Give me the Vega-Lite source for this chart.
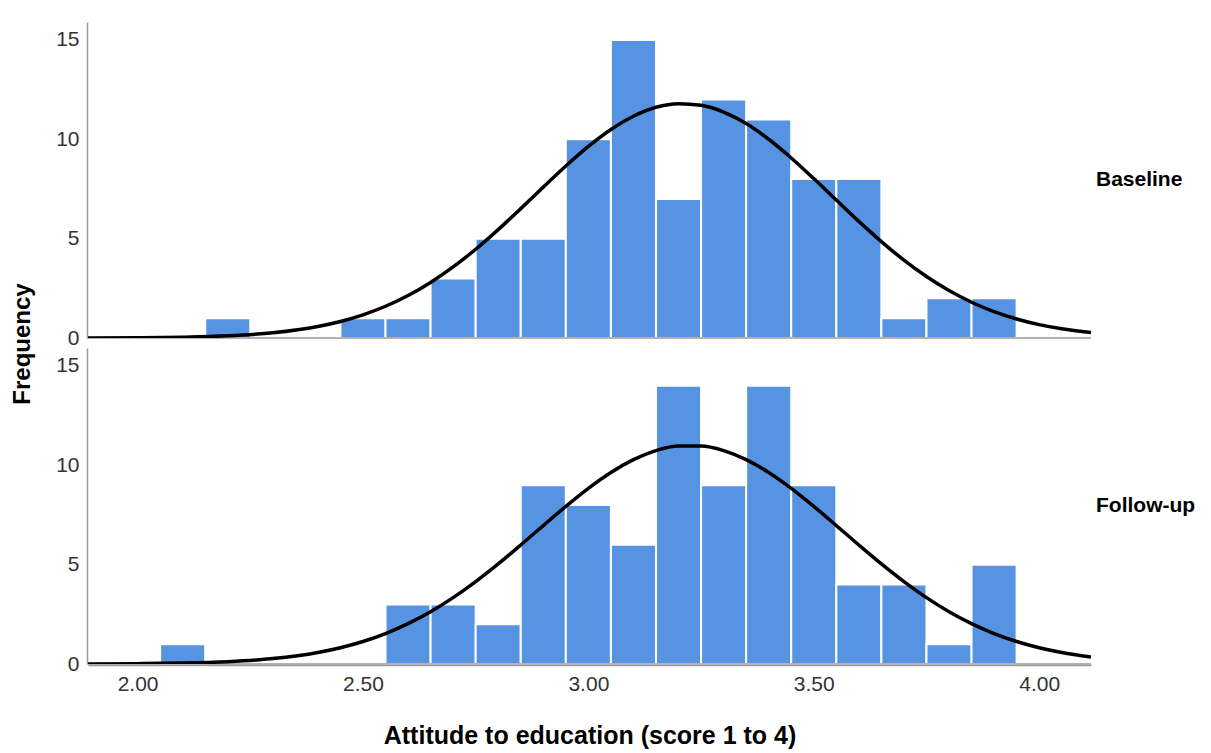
{
  "$schema": "https://vega.github.io/schema/vega-lite/v6.json",
  "padding": {"left": 10, "top": 22, "right": 5, "bottom": 5},
  "background": "white",
  "config": {
    "font": "Liberation Sans",
    "view": {"stroke": null},
    "axis": {"grid": false, "ticks": false, "domainColor": "#9a9a9a", "domainWidth": 1.5, "labelColor": "#333333", "labelFontSize": 21, "titleColor": "#000000"},
    "header": {"labelOrient": "right", "labelAngle": 0, "labelBaseline": "middle", "labelFontSize": 21, "labelFontWeight": "bold", "labelColor": "#000000", "labelPadding": 4, "titleOrient": "left", "titleFontSize": 24, "titleFontWeight": "bold", "titleColor": "#000000", "titlePadding": 10}
  },
  "data": {"values": [
    {"t":"Baseline","k":"bar","lo":2.15,"hi":2.25,"n":1},
    {"t":"Baseline","k":"bar","lo":2.45,"hi":2.55,"n":1},
    {"t":"Baseline","k":"bar","lo":2.55,"hi":2.65,"n":1},
    {"t":"Baseline","k":"bar","lo":2.65,"hi":2.75,"n":3},
    {"t":"Baseline","k":"bar","lo":2.75,"hi":2.85,"n":5},
    {"t":"Baseline","k":"bar","lo":2.85,"hi":2.95,"n":5},
    {"t":"Baseline","k":"bar","lo":2.95,"hi":3.05,"n":10},
    {"t":"Baseline","k":"bar","lo":3.05,"hi":3.15,"n":15},
    {"t":"Baseline","k":"bar","lo":3.15,"hi":3.25,"n":7},
    {"t":"Baseline","k":"bar","lo":3.25,"hi":3.35,"n":12},
    {"t":"Baseline","k":"bar","lo":3.35,"hi":3.45,"n":11},
    {"t":"Baseline","k":"bar","lo":3.45,"hi":3.55,"n":8},
    {"t":"Baseline","k":"bar","lo":3.55,"hi":3.65,"n":8},
    {"t":"Baseline","k":"bar","lo":3.65,"hi":3.75,"n":1},
    {"t":"Baseline","k":"bar","lo":3.75,"hi":3.85,"n":2},
    {"t":"Baseline","k":"bar","lo":3.85,"hi":3.95,"n":2},
    {"t":"Follow-up","k":"bar","lo":2.05,"hi":2.15,"n":1},
    {"t":"Follow-up","k":"bar","lo":2.55,"hi":2.65,"n":3},
    {"t":"Follow-up","k":"bar","lo":2.65,"hi":2.75,"n":3},
    {"t":"Follow-up","k":"bar","lo":2.75,"hi":2.85,"n":2},
    {"t":"Follow-up","k":"bar","lo":2.85,"hi":2.95,"n":9},
    {"t":"Follow-up","k":"bar","lo":2.95,"hi":3.05,"n":8},
    {"t":"Follow-up","k":"bar","lo":3.05,"hi":3.15,"n":6},
    {"t":"Follow-up","k":"bar","lo":3.15,"hi":3.25,"n":14},
    {"t":"Follow-up","k":"bar","lo":3.25,"hi":3.35,"n":9},
    {"t":"Follow-up","k":"bar","lo":3.35,"hi":3.45,"n":14},
    {"t":"Follow-up","k":"bar","lo":3.45,"hi":3.55,"n":9},
    {"t":"Follow-up","k":"bar","lo":3.55,"hi":3.65,"n":4},
    {"t":"Follow-up","k":"bar","lo":3.65,"hi":3.75,"n":4},
    {"t":"Follow-up","k":"bar","lo":3.75,"hi":3.85,"n":1},
    {"t":"Follow-up","k":"bar","lo":3.85,"hi":3.95,"n":5},
    {"t":"Baseline","k":"curve","x":1.89,"d":0.004},
    {"t":"Baseline","k":"curve","x":2.0,"d":0.014},
    {"t":"Baseline","k":"curve","x":2.1,"d":0.041},
    {"t":"Baseline","k":"curve","x":2.2,"d":0.109},
    {"t":"Baseline","k":"curve","x":2.3,"d":0.263},
    {"t":"Baseline","k":"curve","x":2.4,"d":0.581},
    {"t":"Baseline","k":"curve","x":2.45,"d":0.832},
    {"t":"Baseline","k":"curve","x":2.5,"d":1.167},
    {"t":"Baseline","k":"curve","x":2.55,"d":1.597},
    {"t":"Baseline","k":"curve","x":2.6,"d":2.138},
    {"t":"Baseline","k":"curve","x":2.65,"d":2.796},
    {"t":"Baseline","k":"curve","x":2.7,"d":3.575},
    {"t":"Baseline","k":"curve","x":2.75,"d":4.466},
    {"t":"Baseline","k":"curve","x":2.8,"d":5.454},
    {"t":"Baseline","k":"curve","x":2.85,"d":6.509},
    {"t":"Baseline","k":"curve","x":2.9,"d":7.591},
    {"t":"Baseline","k":"curve","x":2.95,"d":8.652},
    {"t":"Baseline","k":"curve","x":3.0,"d":9.637},
    {"t":"Baseline","k":"curve","x":3.05,"d":10.49},
    {"t":"Baseline","k":"curve","x":3.1,"d":11.16},
    {"t":"Baseline","k":"curve","x":3.15,"d":11.61},
    {"t":"Baseline","k":"curve","x":3.2,"d":11.79},
    {"t":"Baseline","k":"curve","x":3.25,"d":11.71},
    {"t":"Baseline","k":"curve","x":3.3,"d":11.37},
    {"t":"Baseline","k":"curve","x":3.35,"d":10.79},
    {"t":"Baseline","k":"curve","x":3.4,"d":10.0},
    {"t":"Baseline","k":"curve","x":3.45,"d":9.059},
    {"t":"Baseline","k":"curve","x":3.5,"d":8.021},
    {"t":"Baseline","k":"curve","x":3.55,"d":6.941},
    {"t":"Baseline","k":"curve","x":3.6,"d":5.869},
    {"t":"Baseline","k":"curve","x":3.65,"d":4.851},
    {"t":"Baseline","k":"curve","x":3.7,"d":3.919},
    {"t":"Baseline","k":"curve","x":3.75,"d":3.094},
    {"t":"Baseline","k":"curve","x":3.8,"d":2.387},
    {"t":"Baseline","k":"curve","x":3.85,"d":1.799},
    {"t":"Baseline","k":"curve","x":3.9,"d":1.326},
    {"t":"Baseline","k":"curve","x":3.95,"d":0.955},
    {"t":"Baseline","k":"curve","x":4.0,"d":0.672},
    {"t":"Baseline","k":"curve","x":4.05,"d":0.462},
    {"t":"Baseline","k":"curve","x":4.115,"d":0.275},
    {"t":"Follow-up","k":"curve","x":1.89,"d":0.005},
    {"t":"Follow-up","k":"curve","x":2.0,"d":0.017},
    {"t":"Follow-up","k":"curve","x":2.1,"d":0.046},
    {"t":"Follow-up","k":"curve","x":2.2,"d":0.117},
    {"t":"Follow-up","k":"curve","x":2.3,"d":0.272},
    {"t":"Follow-up","k":"curve","x":2.4,"d":0.58},
    {"t":"Follow-up","k":"curve","x":2.45,"d":0.819},
    {"t":"Follow-up","k":"curve","x":2.5,"d":1.133},
    {"t":"Follow-up","k":"curve","x":2.55,"d":1.534},
    {"t":"Follow-up","k":"curve","x":2.6,"d":2.032},
    {"t":"Follow-up","k":"curve","x":2.65,"d":2.632},
    {"t":"Follow-up","k":"curve","x":2.7,"d":3.339},
    {"t":"Follow-up","k":"curve","x":2.75,"d":4.146},
    {"t":"Follow-up","k":"curve","x":2.8,"d":5.037},
    {"t":"Follow-up","k":"curve","x":2.85,"d":5.988},
    {"t":"Follow-up","k":"curve","x":2.9,"d":6.966},
    {"t":"Follow-up","k":"curve","x":2.95,"d":7.932},
    {"t":"Follow-up","k":"curve","x":3.0,"d":8.839},
    {"t":"Follow-up","k":"curve","x":3.05,"d":9.637},
    {"t":"Follow-up","k":"curve","x":3.1,"d":10.28},
    {"t":"Follow-up","k":"curve","x":3.15,"d":10.74},
    {"t":"Follow-up","k":"curve","x":3.2,"d":10.97},
    {"t":"Follow-up","k":"curve","x":3.25,"d":10.97},
    {"t":"Follow-up","k":"curve","x":3.3,"d":10.74},
    {"t":"Follow-up","k":"curve","x":3.35,"d":10.28},
    {"t":"Follow-up","k":"curve","x":3.4,"d":9.637},
    {"t":"Follow-up","k":"curve","x":3.45,"d":8.839},
    {"t":"Follow-up","k":"curve","x":3.5,"d":7.932},
    {"t":"Follow-up","k":"curve","x":3.55,"d":6.966},
    {"t":"Follow-up","k":"curve","x":3.6,"d":5.988},
    {"t":"Follow-up","k":"curve","x":3.65,"d":5.037},
    {"t":"Follow-up","k":"curve","x":3.7,"d":4.146},
    {"t":"Follow-up","k":"curve","x":3.75,"d":3.339},
    {"t":"Follow-up","k":"curve","x":3.8,"d":2.632},
    {"t":"Follow-up","k":"curve","x":3.85,"d":2.032},
    {"t":"Follow-up","k":"curve","x":3.9,"d":1.534},
    {"t":"Follow-up","k":"curve","x":3.95,"d":1.133},
    {"t":"Follow-up","k":"curve","x":4.0,"d":0.819},
    {"t":"Follow-up","k":"curve","x":4.05,"d":0.58},
    {"t":"Follow-up","k":"curve","x":4.115,"d":0.357}
  ]},
  "facet": {"row": {"field": "t", "type": "nominal", "title": "Frequency", "sort": ["Baseline", "Follow-up"]}},
  "spacing": {"row": 9},
  "spec": {
    "width": 1003,
    "height": 316,
    "layer": [
      {
        "transform": [{"filter": "datum.k === 'bar'"}],
        "mark": {"type": "rect", "color": "#5793E3", "stroke": "white", "strokeWidth": 2},
        "encoding": {
          "x": {"field": "lo", "type": "quantitative", "scale": {"domain": [1.89, 4.115], "nice": false, "zero": false},
                "axis": {"values": [2, 2.5, 3, 3.5, 4], "format": ".2f", "labelPadding": 8, "labelFlush": false, "title": "Attitude to education (score 1 to 4)", "titleFontSize": 25, "titleFontWeight": "bold", "titlePadding": 29}},
          "x2": {"field": "hi"},
          "y": {"field": "n", "type": "quantitative", "scale": {"domain": [0, 15.9], "nice": false},
                "axis": {"values": [0, 5, 10, 15], "labelPadding": 8, "title": null}},
          "y2": {"datum": 0}
        }
      },
      {
        "transform": [{"filter": "datum.k === 'bar' && datum.lo === 2.55"}],
        "mark": {"type": "rule", "color": "#9a9a9a", "strokeWidth": 1.5},
        "encoding": {"y": {"datum": 0}}
      },
      {
        "transform": [{"filter": "datum.k === 'curve'"}],
        "mark": {"type": "line", "color": "#000000", "strokeWidth": 3.5, "interpolate": "monotone", "clip": true},
        "encoding": {
          "x": {"field": "x", "type": "quantitative", "title": "Attitude to education (score 1 to 4)"},
          "y": {"field": "d", "type": "quantitative", "title": null}
        }
      }
    ]
  }
}
